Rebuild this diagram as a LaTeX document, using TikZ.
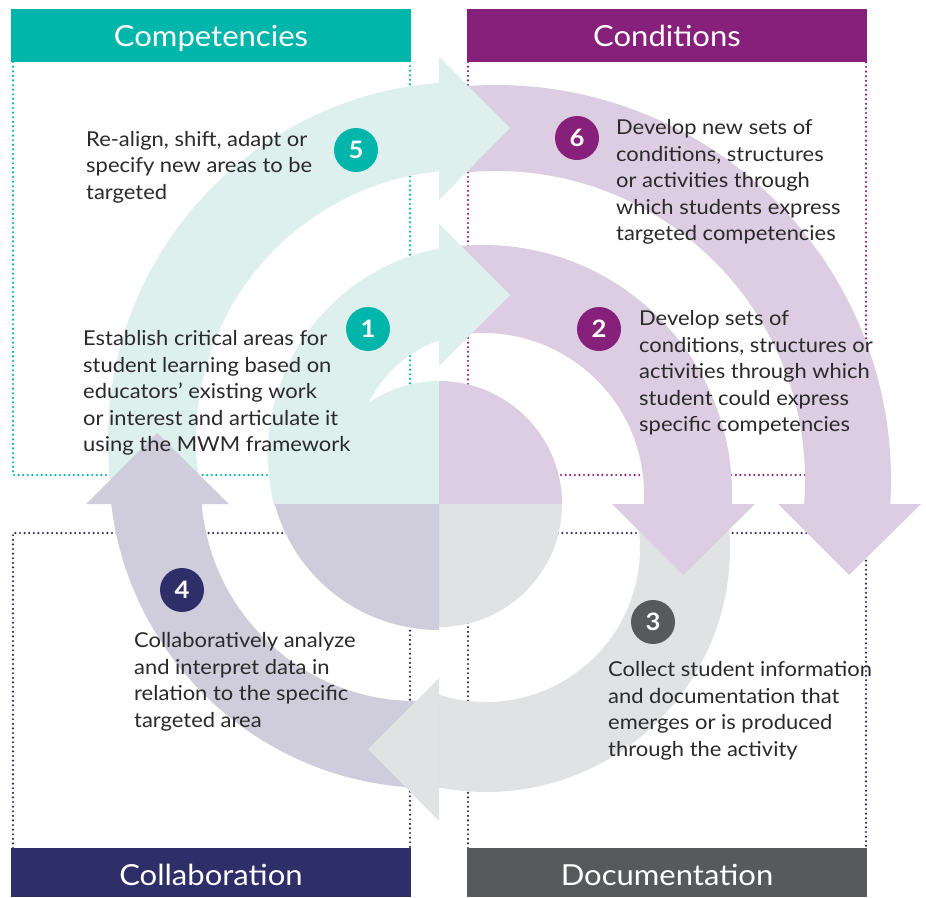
\documentclass[tikz,border=0pt]{standalone}
\usepackage{fontspec}
\setmainfont{Lato}[FakeStretch=1.07]
\definecolor{cTeal}{HTML}{00B5A9}
\definecolor{cTealL}{HTML}{DDF0ED}
\definecolor{cPurp}{HTML}{86207B}
\definecolor{cPurpL}{HTML}{DDCDE2}
\definecolor{cNavy}{HTML}{2E2E68}
\definecolor{cNavyL}{HTML}{CFCCDB}
\definecolor{cGray}{HTML}{58595B}
\definecolor{cGrayL}{HTML}{E1E2E3}
\definecolor{cTxt}{HTML}{2A2A2A}
\begin{document}
\begin{tikzpicture}[x=1pt,y=-1pt]
\tikzset{
  dotline/.style={line width=2.4pt, dash pattern=on 0pt off 4.6pt, line cap=round},
  numc/.style={circle, minimum size=44pt, inner sep=0pt, text=white, font=\fontsize{24}{24}\selectfont\bfseries},
  body/.style={anchor=base west, align=left, inner sep=0pt, text=cTxt, font=\fontsize{20.5}{26.5}\selectfont},
  head/.style={anchor=base, inner sep=0pt, text=white, font=\fontsize{29}{29}\selectfont},
}
\useasboundingbox (0,0) rectangle (926,897);
\fill[white] (0,0) rectangle (926,897);

% dotted frames (behind everything)
\draw[dotline, cTeal] (13,62) -- (13,475) -- (410,475) -- (410,62);
\draw[dotline, cPurp] (468,62) -- (468,475) -- (866,475) -- (866,62);
\draw[dotline, cNavy] (13,848) -- (13,533) -- (410,533) -- (410,848);
\draw[dotline, cNavy] (468,848) -- (468,533) -- (866,533) -- (866,848);

% top-left quadrant: bands 1 and 5, disc
\begin{scope}
  \clip (0,0) rectangle (439,504);
  \fill[cTealL, even odd rule] (478,455) circle[radius=210pt] (478,455) circle[radius=121pt];
  \fill[cTealL, even odd rule] (466,440) circle[radius=358pt] (466,440) circle[radius=270pt];
  \fill[cTealL] (439,504) circle[radius=123pt];
\end{scope}
% top-right quadrant: bands 2 and 6, disc
\begin{scope}
  \clip (439,0) rectangle (926,504);
  \fill[cPurpL, even odd rule] (483,494) circle[radius=249pt] (483,494) circle[radius=161pt];
  \fill[cPurpL, even odd rule] (496,480) circle[radius=395pt] (496,480) circle[radius=309pt];
  \fill[cPurpL] (439,504) circle[radius=123pt];
\end{scope}
% bottom-right quadrant: band 3, disc
\begin{scope}
  \clip (439,504) rectangle (926,897);
  \fill[cGrayL, even odd rule] (486,548) circle[radius=244pt] (486,548) circle[radius=154pt];
  \fill[cGrayL] (439,504) circle[radius=123pt];
\end{scope}
% bottom-left quadrant: band 4, disc
\begin{scope}
  \clip (0,504) rectangle (439,897);
  \fill[cNavyL, even odd rule] (431,466) circle[radius=322pt] (416,486) circle[radius=215pt];
  \fill[cNavyL] (439,460) circle[radius=170pt];
\end{scope}

% arrowheads
\fill[cTealL] (439,224) -- (510,295) -- (439,366) -- cycle;
\fill[cTealL] (439,57) -- (510,128) -- (439,200) -- cycle;
\fill[cPurpL] (612,504) -- (755,504) -- (683,575) -- cycle;
\fill[cPurpL] (778,504) -- (921,504) -- (849,575) -- cycle;
\fill[cGrayL] (439,678) -- (368,749) -- (439,821) -- cycle;
\fill[cNavyL] (86,504) -- (229,504) -- (157,433) -- cycle;

% headers
\fill[cTeal] (11,9) rectangle (411,62);
\fill[cPurp] (467,9) rectangle (867,62);
\fill[cNavy] (11,848) rectangle (411,897);
\fill[cGray] (467,848) rectangle (867,897);
\node[head] (hcomp) at (211,46.7) {Competencies};
\node[head] (hcond) at (667,46.7) {Conditions};
\node[head] (hcoll) at (211,885) {Collaboration};
\node[head] (hdoc) at (667,885) {Documentation};

% number badges
\node[numc, fill=cTeal] (n5) at (356,150) {5};
\node[numc, fill=cTeal] (n1) at (368,329) {1};
\node[numc, fill=cPurp] (n6) at (577,138) {6};
\node[numc, fill=cPurp] (n2) at (599,329) {2};
\node[numc, fill=cNavy] (n4) at (182,590) {4};
\node[numc, fill=cGray] (n3) at (653,622) {3};

% texts (anchor = baseline of the last line)
\node[body] (t5) at (86,199) {Re-align, shift, adapt or\\specify new areas to be\\targeted};
\node[body] (t1) at (83,451.7) {Establish critical areas for\\student learning based on\\educators’ existing work\\or interest and articulate it\\using the MWM framework};
\node[body] (t6) at (616,240.5) {Develop new sets of\\conditions, structures\\or activities through\\which students express\\targeted competencies};
\node[body] (t2) at (639,431.5) {Develop sets of\\conditions, structures or\\activities through which\\student could express\\specific competencies};
\node[body] (t4) at (134,727) {Collaboratively analyze\\and interpret data in\\relation to the specific\\targeted area};
\node[body] (t3) at (608,756) {Collect student information\\and documentation that\\emerges or is produced\\through the activity};
\end{tikzpicture}
\end{document}
